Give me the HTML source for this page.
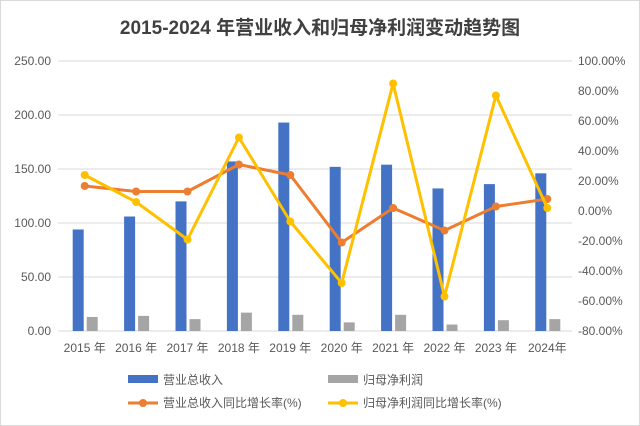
<!DOCTYPE html>
<html><head><meta charset="utf-8"><style>
body{margin:0;background:#fff;}
svg{display:block;font-family:"Liberation Sans","Noto Sans CJK SC",sans-serif;}
</style></head><body>
<svg id="c" width="640" height="426">
<rect x="0.5" y="0.5" width="639" height="425" fill="#fff" stroke="#d9d9d9"/>
<text x="320" y="34" text-anchor="middle" font-size="19" font-weight="bold" fill="#404040">2015-2024 年营业收入和归母净利润变动趋势图</text>
<g id="grid"></g><g id="bars"></g><g id="lines"></g><g id="axes"></g>
<g id="legend"></g>
</svg>
<script>
const categories=["2015 年","2016 年","2017 年","2018 年","2019 年","2020 年","2021 年","2022 年","2023 年","2024年"];
const revenue=[94,106,120,157,193,152,154,132,136,146];
const netProfit=[13,14,11,17,15,8,15,6,10,11];
const revenueGrowth=[16.7,13,13,31,24,-21,2,-13,3,8];
const profitGrowth=[24,6,-19,49,-7,-48,85,-57,77,2];
const leftTicks=[0,50,100,150,200,250];
const rightTicks=[-80,-60,-40,-20,0,20,40,60,80,100];
const NS="http://www.w3.org/2000/svg";
const L=58,R=572,T=61,B=331;
const yL=v=>B-(v/250)*(B-T);
const yR=v=>B-((v+80)/180)*(B-T);
const bw=(R-L)/categories.length;
const xC=i=>L+bw*(i+0.5)+1;
function mk(tag,attrs,parent,text){const e=document.createElementNS(NS,tag);for(const k in attrs)e.setAttribute(k,attrs[k]);if(text!=null)e.textContent=text;document.getElementById(parent).appendChild(e);return e;}
leftTicks.forEach(v=>{
 const g=mk("line",{x1:L,x2:R,y1:yL(v),y2:yL(v),stroke:"#d9d9d9","stroke-width":1},"grid");
 
 
 const t=mk("text",{x:L-7,y:yL(v)+4,"text-anchor":"end","font-size":12,fill:"#595959"},"axes",v.toFixed(2));
 
 
});
rightTicks.forEach(v=>{
 const t=mk("text",{x:R+6,y:yR(v)+4,"font-size":12,fill:"#595959"},"axes",v.toFixed(2)+"%");
 
 
});
categories.forEach((c,i)=>{
 const t=mk("text",{x:xC(i),y:352,"text-anchor":"middle","font-size":12,fill:"#595959"},"axes",c);
 
 
 const b=mk("rect",{x:xC(i)-12,y:yL(revenue[i]),width:11,height:B-yL(revenue[i]),fill:"#4472c4"},"bars");
 
 
 const g=mk("rect",{x:xC(i)+2,y:yL(netProfit[i]),width:11,height:B-yL(netProfit[i]),fill:"#a5a5a5"},"bars");
 
 
});
function line(data,color,name){
 const p=mk("polyline",{points:data.map((v,i)=>xC(i)+","+yR(v)).join(" "),fill:"none",stroke:color,"stroke-width":3,"stroke-linejoin":"round"},"lines");
 
 
 data.forEach((v,i)=>{
  const m=mk("circle",{cx:xC(i),cy:yR(v),r:4,fill:color},"lines");
  
  
 });
}
line(revenueGrowth,"#ed7d31","revenue-growth");
line(profitGrowth,"#ffc000","profit-growth");
const leg=[["rect","#4472c4","营业总收入",128,380],["rect","#a5a5a5","归母净利润",328,380],["line","#ed7d31","营业总收入同比增长率(%)",128,403],["line","#ffc000","归母净利润同比增长率(%)",328,403]];
leg.forEach(([k,c,t,x,y])=>{
 if(k==="rect"){const r=mk("rect",{x:x,y:y-5,width:30,height:8,fill:c},"legend");}
 else{const l=mk("line",{x1:x,x2:x+30,y1:y,y2:y,stroke:c,"stroke-width":3},"legend");
  const m=mk("circle",{cx:x+15,cy:y,r:4,fill:c},"legend");}
 const tx=mk("text",{x:x+35,y:y+4,"font-size":12,fill:"#595959"},"legend",t);
 
 
});
</script>
</body></html>
